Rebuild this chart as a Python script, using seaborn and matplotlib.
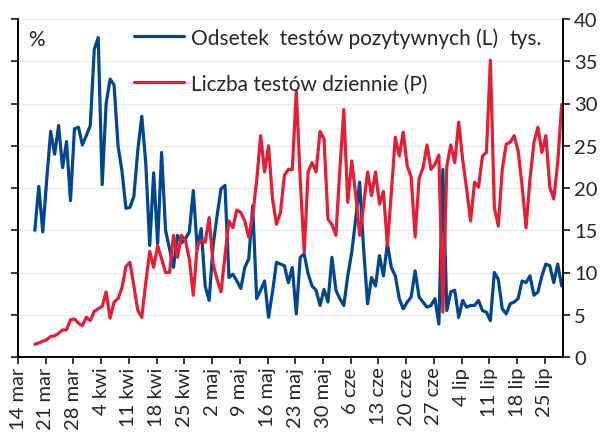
import pandas as pd
import numpy as np
import seaborn as sns
import matplotlib
matplotlib.use("Agg")
import matplotlib.pyplot as plt

# dzienne dane od 18 marca do 29 lipca 2020
start_date = "2020-03-18"
odsetek = [15.0, 20.2, 14.8, 21.0, 26.7, 24.0, 27.4, 22.4, 25.5, 18.5,
           27.0, 27.2, 25.1, 26.2, 27.4, 36.4, 37.8, 20.4, 30.0, 32.9,
           32.2, 25.0, 22.0, 17.6, 17.7, 19.0, 24.5, 28.5, 23.0, 13.2,
           21.8, 13.4, 24.2, 15.0, 12.8, 10.6, 14.4, 13.5, 14.0, 14.8,
           19.7, 12.8, 15.2, 8.4, 6.7, 13.2, 16.7, 19.9, 20.3, 9.4,
           9.8, 9.0, 8.1, 10.6, 11.6, 17.9, 6.9, 7.9, 9.0, 4.7,
           7.7, 11.2, 11.0, 10.8, 8.8, 10.6, 5.1, 11.8, 12.2, 9.8,
           8.4, 7.9, 6.1, 8.0, 6.5, 11.8, 7.9, 6.9, 6.1, 9.6,
           12.4, 16.3, 20.7, 12.8, 6.3, 9.4, 8.4, 12.0, 9.6, 13.4,
           10.6, 9.6, 6.9, 5.7, 6.5, 7.1, 10.2, 7.1, 6.5, 5.9,
           6.1, 6.9, 3.9, 22.2, 5.5, 7.7, 7.9, 4.7, 6.7, 5.9,
           6.1, 6.1, 6.7, 5.5, 5.3, 4.3, 10.0, 9.2, 5.7, 5.1,
           6.3, 6.5, 6.9, 9.0, 8.8, 9.6, 7.3, 7.7, 9.6, 11.0,
           10.8, 8.8, 11.0, 8.4]
testy = [1.5, 1.66, 1.85, 2.05, 2.45, 2.5, 2.8, 3.2, 3.2, 4.4,
         4.5, 4.0, 3.7, 4.7, 4.3, 5.4, 5.7, 6.0, 7.7, 4.6,
         6.5, 6.9, 8.2, 10.7, 11.2, 8.4, 5.5, 4.7, 8.8, 12.5,
         10.6, 13.2, 11.6, 10.0, 10.0, 14.4, 11.8, 14.4, 13.8, 11.6,
         7.3, 13.2, 13.8, 13.6, 16.5, 11.0, 9.2, 7.7, 12.0, 16.1,
         15.3, 17.4, 17.1, 16.1, 14.2, 16.7, 20.9, 26.2, 21.9, 25.0,
         18.7, 15.7, 17.1, 21.5, 22.2, 22.2, 31.5, 21.0, 12.4, 22.0,
         23.0, 21.9, 26.7, 25.8, 16.3, 15.7, 14.4, 22.2, 29.3, 18.3,
         23.2, 19.2, 14.4, 18.0, 21.9, 19.1, 21.9, 18.1, 19.6, 13.2,
         19.5, 26.0, 23.8, 26.6, 22.6, 21.3, 14.2, 21.1, 22.4, 25.1,
         22.2, 22.8, 23.9, 5.3, 22.6, 25.1, 23.0, 27.8, 23.4, 19.9,
         16.1, 20.7, 20.1, 23.8, 24.2, 35.1, 17.7, 15.5, 22.2, 25.2,
         25.4, 26.2, 24.4, 20.3, 15.3, 21.1, 25.4, 27.2, 24.2, 26.2,
         20.1, 18.7, 23.0, 29.9]
miesiace = {3: "mar", 4: "kwi", 5: "maj", 6: "cze", 7: "lip"}
label_l = "Odsetek  testów pozytywnych (L)"
label_p = "Liczba testów dziennie (P)"

df = pd.DataFrame({
    "data": pd.date_range(start_date, periods=len(odsetek), freq="D") + pd.Timedelta(hours=6),
    "odsetek": odsetek,
    "testy": testy,
})

sns.set_style("white")
plt.rcParams["font.family"] = ["Lato", "DejaVu Sans"]

BLUE = "#00478F"
RED = "#E41E33"

fig = plt.figure(figsize=(6.04, 4.35), dpi=100)
ax = fig.add_axes([18 / 604, 1 - 358 / 435, (563 - 18) / 604, (358 - 20) / 435])
ax2 = ax.twinx()

sns.lineplot(data=df, x="data", y="odsetek", ax=ax, color=BLUE, linewidth=2.3, label=label_l, legend=False)
sns.lineplot(data=df, x="data", y="testy", ax=ax2, color=RED, linewidth=2.3, label=label_p, legend=False)

for a in (ax, ax2):
    a.set_ylim(0, 40)
    a.set_yticks(np.arange(0, 41, 5))
    a.set_xlabel("")
    a.set_ylabel("")
    a.spines["top"].set_visible(False)
    for s in ("left", "right", "bottom"):
        a.spines[s].set_color("black")
        a.spines[s].set_linewidth(1.3)

ax.grid(axis="y", color="#ececec", linewidth=0.8)
ax.set_yticklabels([])
ax.tick_params(axis="y", left=True, length=5, width=1.3, direction="out")
ax2.tick_params(axis="y", right=True, length=5, width=1.3, direction="out", labelsize=14.5, pad=3)

ticks = pd.date_range("2020-03-14", periods=20, freq="7D")
ax.set_xticks(ticks)
ax.set_xticklabels([f"{d.day} {miesiace[d.month]}" for d in ticks], rotation=90, fontsize=14.5)
ax.tick_params(axis="x", bottom=True, length=5, width=1.3, direction="out", pad=2)
ax.set_xlim(pd.Timestamp("2020-03-14"), pd.Timestamp("2020-07-29 14:00"))

ax.text(10 / 545, 0.94, "%", transform=ax.transAxes, fontsize=15, va="center", ha="left")
ax.text(492 / 545, 0.945, "tys.", transform=ax.transAxes, fontsize=15, va="center", ha="left")

h1, l1 = ax.get_legend_handles_labels()
h2, l2 = ax2.get_legend_handles_labels()
fig.legend(h1 + h2, l1 + l2, loc="upper left", bbox_to_anchor=(134 / 604, 1 - 28 / 435),
           frameon=False, fontsize=15, handlelength=2.4, handletextpad=0.35,
           labelspacing=1.25, borderpad=0, borderaxespad=0)

fig.savefig("out.png", dpi=100)
